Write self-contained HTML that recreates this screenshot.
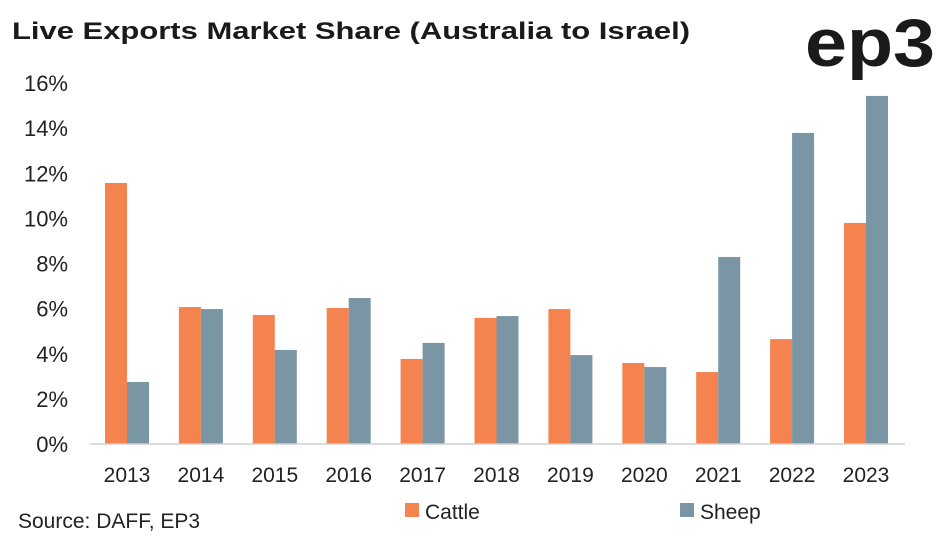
<!DOCTYPE html>
<html><head><meta charset="utf-8"><style>
body{margin:0;background:#fff;width:941px;height:539px;overflow:hidden;font-family:"Liberation Sans",sans-serif}
</style></head><body>
<svg width="941" height="539" xmlns="http://www.w3.org/2000/svg">
<text x="12" y="39" font-size="24" font-weight="bold" fill="#1a1a1a" textLength="678" lengthAdjust="spacingAndGlyphs">Live Exports Market Share (Australia to Israel)</text>
<text x="805" y="66" font-size="68" font-weight="bold" fill="#1a1a1a" textLength="130" lengthAdjust="spacingAndGlyphs">ep3</text>
<g id="yaxis"></g>
<g id="bars"></g>
<g id="xaxis"></g>
<line x1="90" y1="444" x2="905" y2="444" stroke="#d0d0d0" stroke-width="1.5"/>
<text x="18" y="528" font-size="21" fill="#222">Source: DAFF, EP3</text>
<rect x="405" y="503" width="14" height="14" fill="#F4834F"/>
<text x="425" y="519" font-size="21" fill="#222">Cattle</text>
<rect x="680" y="503" width="14" height="14" fill="#7A95A3"/>
<text x="700" y="519" font-size="21" fill="#222">Sheep</text>
</svg>
<script>
const categories=["2013","2014","2015","2016","2017","2018","2019","2020","2021","2022","2023"];
const cattle=[11.57,6.07,5.72,6.03,3.77,5.59,5.98,3.59,3.19,4.65,9.8];
const sheep=[2.75,5.98,4.17,6.47,4.48,5.67,3.94,3.41,8.29,13.79,15.43];
const yTicks=[0,2,4,6,8,10,12,14,16];
const NS="http://www.w3.org/2000/svg";
function y(v){return 444-v*22.56;}
function xc(i){return 127+i*73.9;}
const ya=document.getElementById('yaxis'),bg=document.getElementById('bars'),xa=document.getElementById('xaxis');
yTicks.forEach(t=>{const e=document.createElementNS(NS,'text');


e.setAttribute('x',68);e.setAttribute('y',y(t)+8);e.setAttribute('text-anchor','end');e.setAttribute('font-size','22');e.setAttribute('fill','#222');e.textContent=t+'%';ya.appendChild(e);});
categories.forEach((c,i)=>{
 [[cattle,'#F4834F',-22,'bar-cattle-'],[sheep,'#7A95A3',0,'bar-sheep-']].forEach(([arr,col,off,nm])=>{
  const r=document.createElementNS(NS,'rect');
  
  
  r.setAttribute('x',xc(i)+off);r.setAttribute('width',22);r.setAttribute('y',y(arr[i]));r.setAttribute('height',444-y(arr[i]));r.setAttribute('fill',col);bg.appendChild(r);});
 const t=document.createElementNS(NS,'text');
 
 
 t.setAttribute('x',xc(i));t.setAttribute('y',482);t.setAttribute('text-anchor','middle');t.setAttribute('font-size','21');t.setAttribute('fill','#222');t.textContent=c;xa.appendChild(t);
});
</script>
</body></html>
